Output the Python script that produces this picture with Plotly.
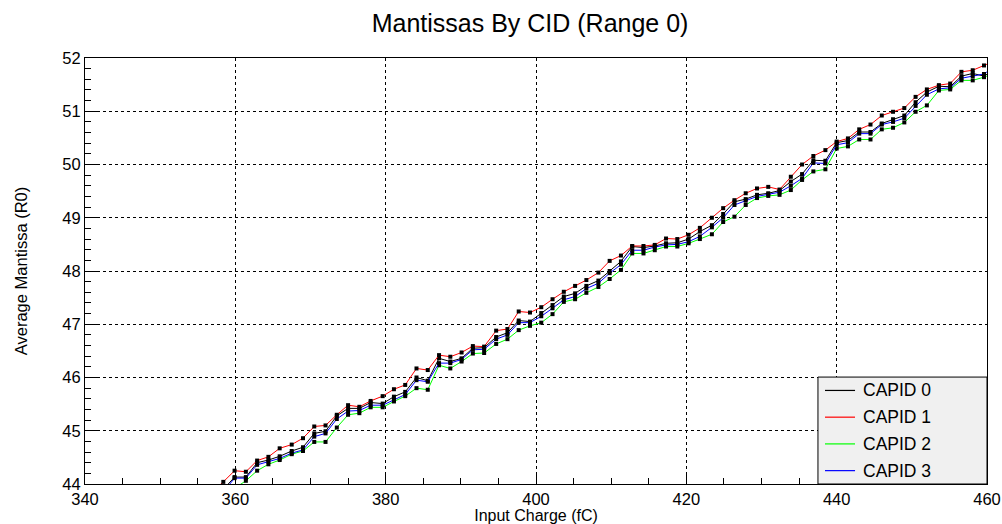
import plotly.graph_objects as go

# Input charge (fC) of each measurement point
charge_fC = [356.9, 358.4, 359.9, 361.4, 362.9, 364.4, 365.9, 367.5, 369.0, 370.5,
             372.0, 373.5, 375.0, 376.5, 378.0, 379.6, 381.1, 382.6, 384.1, 385.6,
             387.1, 388.6, 390.1, 391.6, 393.1, 394.7, 396.2, 397.7, 399.2, 400.7,
             402.2, 403.7, 405.2, 406.7, 408.3, 409.8, 411.3, 412.8, 414.3, 415.8,
             417.3, 418.8, 420.3, 421.8, 423.4, 424.9, 426.4, 427.9, 429.4, 430.9,
             432.4, 433.9, 435.4, 436.9, 438.5, 440.0, 441.5, 443.0, 444.5, 446.0,
             447.5, 449.0, 450.5, 452.0, 453.6, 455.1, 456.6, 458.1, 459.6, 461.1]

capid0 = [43.70, 43.90, 44.13, 44.13, 44.40, 44.45, 44.52, 44.62, 44.69, 44.95, 44.99, 45.28, 45.42,
          45.42, 45.53, 45.51, 45.64, 45.73, 46.00, 45.94, 46.36, 46.30, 46.36, 46.55,
          46.56, 46.76, 46.84, 47.07, 47.05, 47.21, 47.36, 47.52, 47.58, 47.72, 47.82,
          48.00, 48.18, 48.46, 48.44, 48.47, 48.52, 48.53, 48.60, 48.74, 48.86, 49.07,
          49.30, 49.35, 49.43, 49.46, 49.51, 49.68, 49.82, 50.08, 50.07, 50.41, 50.45,
          50.61, 50.61, 50.77, 50.85, 50.92, 51.17, 51.36, 51.47, 51.46, 51.66, 51.71, 51.66, 51.80]

capid1 = [43.85, 44.04, 44.25, 44.23, 44.44, 44.51, 44.67, 44.74, 44.86, 45.08, 45.10, 45.30, 45.48,
          45.45, 45.56, 45.65, 45.78, 45.86, 46.17, 46.14, 46.42, 46.39, 46.47, 46.59,
          46.58, 46.88, 46.91, 47.24, 47.22, 47.32, 47.47, 47.61, 47.72, 47.83, 47.97,
          48.19, 48.29, 48.47, 48.47, 48.49, 48.61, 48.60, 48.68, 48.81, 49.00, 49.18,
          49.33, 49.46, 49.55, 49.58, 49.53, 49.77, 50.00, 50.16, 50.27, 50.43, 50.49,
          50.66, 50.75, 50.92, 50.99, 51.06, 51.27, 51.41, 51.49, 51.52, 51.74, 51.77, 51.86, 51.95]

capid2 = [43.60, 43.75, 43.92, 44.06, 44.25, 44.37, 44.45, 44.56, 44.62, 44.79, 44.79, 45.06, 45.30,
          45.33, 45.44, 45.44, 45.55, 45.65, 45.80, 45.77, 46.23, 46.17, 46.30, 46.45,
          46.46, 46.63, 46.72, 46.89, 46.97, 47.03, 47.19, 47.42, 47.47, 47.59, 47.70,
          47.85, 48.02, 48.33, 48.33, 48.39, 48.46, 48.46, 48.52, 48.60, 48.69, 48.92,
          49.02, 49.24, 49.37, 49.41, 49.43, 49.52, 49.71, 49.87, 49.91, 50.30, 50.34,
          50.47, 50.47, 50.66, 50.69, 50.79, 50.99, 51.11, 51.39, 51.41, 51.58, 51.58, 51.64, 51.72]

capid3 = [43.70, 43.85, 44.11, 44.11, 44.36, 44.42, 44.48, 44.58, 44.64, 44.89, 44.95, 45.22, 45.37,
          45.38, 45.48, 45.48, 45.58, 45.68, 45.95, 45.92, 46.27, 46.27, 46.34, 46.52,
          46.53, 46.72, 46.80, 47.03, 47.03, 47.15, 47.30, 47.46, 47.52, 47.67, 47.77,
          47.96, 48.12, 48.39, 48.39, 48.45, 48.49, 48.50, 48.55, 48.65, 48.82, 49.00,
          49.24, 49.32, 49.40, 49.44, 49.48, 49.60, 49.74, 50.03, 50.02, 50.37, 50.41,
          50.58, 50.58, 50.75, 50.80, 50.87, 51.10, 51.31, 51.42, 51.44, 51.62, 51.66, 51.70, 51.85]

series_names = ["CAPID 0", "CAPID 1", "CAPID 2", "CAPID 3"]
series_values = [capid0, capid1, capid2, capid3]
series_colors = ["#000000", "#ff0000", "#00ff00", "#0000ff"]

FONT = "Liberation Sans, Arial, Helvetica, sans-serif"

fig = go.Figure()
for name, vals, col in zip(series_names, series_values, series_colors):
    fig.add_trace(go.Scatter(
        x=charge_fC, y=vals, mode="lines+markers", name=name,
        line=dict(color=col, width=1),
        marker=dict(symbol="square", size=4, color="black", line=dict(width=0)),
        showlegend=False, cliponaxis=True, hoverinfo="x+y+name"))

# ROOT-style legend box in the lower-right corner of the frame
leg_x0, leg_x1, leg_y0, leg_y1 = 0.8126, 1.0, 0.0, 0.251
fig.add_shape(type="rect", xref="paper", yref="paper",
              x0=leg_x0, x1=leg_x1, y0=leg_y0, y1=leg_y1,
              fillcolor="#f0f0f0", line=dict(color="black", width=1), layer="above")
n = len(series_names)
for k, (name, col) in enumerate(zip(series_names, series_colors)):
    yc = leg_y1 - (k + 0.5) * (leg_y1 - leg_y0) / n
    fig.add_shape(type="line", xref="paper", yref="paper",
                  x0=leg_x0 + 0.0078, x1=leg_x0 + 0.0411, y0=yc, y1=yc,
                  line=dict(color=col, width=1.2), layer="above")
    fig.add_annotation(text=name, xref="paper", yref="paper",
                       x=leg_x0 + 0.0475, y=yc, xanchor="left", yanchor="middle",
                       showarrow=False, font=dict(family=FONT, size=17.5, color="black"))

axis_common = dict(
    showline=True, linecolor="black", linewidth=1, mirror=True,
    showgrid=True, gridcolor="black", gridwidth=1, griddash="dot",
    zeroline=False, ticks="inside", tickcolor="black", tickwidth=1,
    tickfont=dict(family=FONT, size=16.5, color="black"), automargin=False,
)

fig.update_layout(
    width=1002, height=524,
    margin=dict(l=85, r=15, t=58, b=40),
    paper_bgcolor="white", plot_bgcolor="white",
    font=dict(family=FONT, color="black"),
    title=dict(text="Mantissas By CID (Range 0)", x=0.529, xanchor="center",
               y=0.956, yanchor="middle", font=dict(family=FONT, size=25, color="black")),
    xaxis=dict(range=[340, 460], tick0=340, dtick=20, ticklen=12, ticklabelstandoff=0,
               minor=dict(dtick=5, ticks="inside", ticklen=6, tickcolor="black", showgrid=False),
               title=dict(text="Input Charge (fC)", font=dict(family=FONT, size=16), standoff=0),
               **axis_common),
    yaxis=dict(range=[44, 52], tick0=44, dtick=1, ticklen=12,
               minor=dict(dtick=0.2, ticks="inside", ticklen=6, tickcolor="black", showgrid=False),
               title=dict(text="Average Mantissa (R0)", font=dict(family=FONT, size=16.5), standoff=30),
               **axis_common),
    showlegend=False,
)

fig.write_html("out.html")
